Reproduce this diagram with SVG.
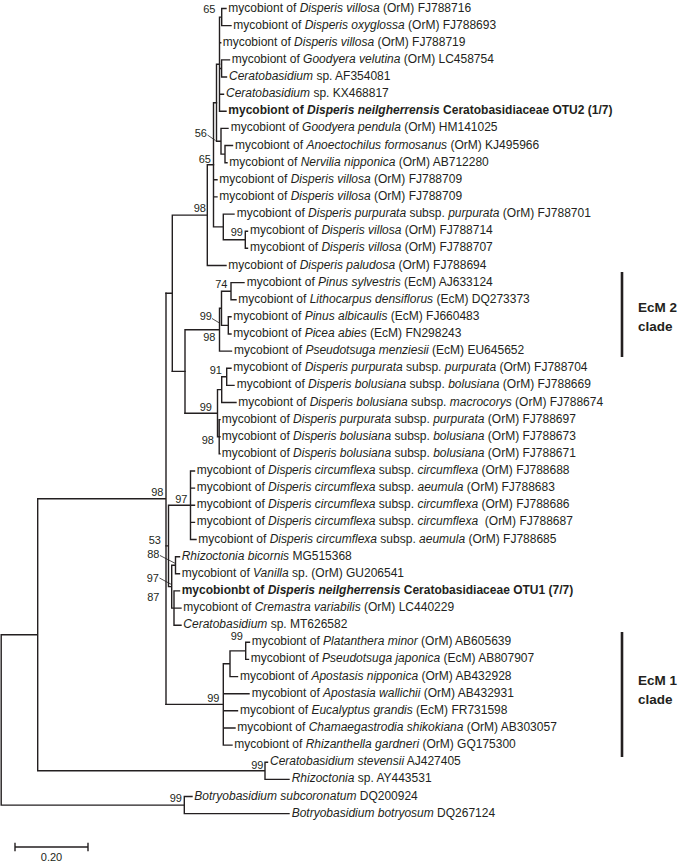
<svg xmlns="http://www.w3.org/2000/svg" width="678" height="864" viewBox="0 0 678 864">
<style>
.br{fill:none;stroke:#231f20;stroke-width:1.4;stroke-linecap:square}
.bar{fill:none;stroke:#231f20;stroke-width:2.6}
text{font-family:"Liberation Sans",Arial,sans-serif;fill:#231f20}
.t{font-size:12px}
.b{font-weight:bold}
.i{font-style:italic}
.bs{font-size:11px;text-anchor:end}
.cl{font-size:13.5px;font-weight:bold}
.ld{fill:none;stroke:#231f20;stroke-width:0.8}
</style>
<rect width="678" height="864" fill="#fff"/>
<g id="branches" class="br">
<path d="M221.7 8.5V25.6M221.7 8.5H226M221.7 25.6H231M219.5 17.1V111.3M219.5 17.1H221.7M219.5 42.8H220.7M221.6 59.9V77M219.5 68.5H221.6M221.6 59.9H229.5M221.6 77H226.5M219.5 94.2H223.5M219.5 111.3H226"/>
<path d="M216.5 64.2V141.3M216.5 64.2H219.5M221 128.4V154.1M216.5 141.3H221M221 128.4H228M225 145.5V162.7M221 154.1H225M225 145.5H232.5M225 162.7H227"/>
<path d="M213.5 102.7V226.9M213.5 102.7H216.5M213.5 179.8H217M213.5 196.9H217M223.3 214.1V239.8M213.5 226.9H223.3M223.3 214.1H234M245.3 231.2V248.3M223.3 239.8H245.3M245.3 231.2H247.5M245.3 248.3H247.5"/>
<path d="M207.3 164.8V265.5M207.3 164.8H213.5M207.3 265.5H226M172.3 215.1V371.4M172.3 215.1H207.3"/>
<path d="M231 282.6V299.7M231 282.6H244M231 299.7H236M221.5 291.2V325.4M221.5 291.2H231M228.3 316.8V334M221.5 325.4H228.3M228.3 316.8H231M228.3 334H231M219.5 308.3V351.1M219.5 308.3H221.5M219.5 351.1H231.5M185 329.7V413.2M185 329.7H219.5"/>
<path d="M226.7 368.2V385.4M226.7 368.2H231M226.7 385.4H234M221.7 376.8V402.5M221.7 376.8H226.7M221.7 402.5H236M219.2 419.6V453.9M219.2 419.6H220M219.2 436.8H220M219.2 453.9H220M217.5 389.6V436.8M217.5 389.6H221.7M217.5 436.8H219.2M185 413.2H217.5M172.3 371.4H185M166 293.3H172.3"/>
<path d="M166 293.3V704.4M37.7 498.8H166"/>
<path d="M190.5 471V539.5M190.5 471H194.5M190.5 488.1H194.5M190.5 505.3H194.5M190.5 522.4H194.5M190.5 539.5H196M168.5 505.3V586.6M168.5 505.3H190.5M166 545.9H168.5M171.7 565.2V608.1M168.5 586.6H171.7M175.5 556.7V573.8M171.7 565.2H175.5M175.5 556.7H179.5M175.5 573.8H179.5M174 590.9V625.2M171.7 608.1H174M174 590.9H179.5M174 608.1H181M174 625.2H181"/>
<path d="M245.7 642.3V659.4M245.7 642.3H249.5M245.7 659.4H248.5M230 650.9V676.6M230 650.9H245.7M230 676.6H237.5M223.3 663.7V745.1M223.3 663.7H230M223.3 693.7H249M223.3 710.8H237.5M223.3 728H235M223.3 745.1H232M166 704.4H223.3"/>
<path d="M265 762.2V779.4M265 762.2H267.5M265 779.4H289M37.7 498.8V770.8M37.7 770.8H265M1.2 634.8V805.1M1.2 634.8H37.7M184.3 796.5V813.6M1.2 805.1H184.3M184.3 796.5H192M184.3 813.6H289"/>
</g>
<g id="leader-lines" class="ld">
<path d="M207.5 135L215.5 140.5M212 318.5L219.5 323M160 555.5L175.5 563.5M159.5 578L171.5 584.5"/>
</g>
<g id="support-values">
<text class="bs" x="215.5" y="13">65</text>
<text class="bs" x="207" y="137">56</text>
<text class="bs" x="211" y="163">65</text>
<text class="bs" x="206" y="212">98</text>
<text class="bs" x="243" y="236">99</text>
<text class="bs" x="227.5" y="288">74</text>
<text class="bs" x="212" y="320">99</text>
<text class="bs" x="215.5" y="341">98</text>
<text class="bs" x="222" y="373.5">91</text>
<text class="bs" x="212" y="410.5">99</text>
<text class="bs" x="214" y="444">98</text>
<text class="bs" x="163.5" y="495.5">98</text>
<text class="bs" x="187.5" y="503">97</text>
<text class="bs" x="161" y="544">53</text>
<text class="bs" x="159.5" y="557.5">88</text>
<text class="bs" x="159" y="581.5">97</text>
<text class="bs" x="159.5" y="601">87</text>
<text class="bs" x="243" y="639.5">99</text>
<text class="bs" x="219.5" y="702">99</text>
<text class="bs" x="263.5" y="769">99</text>
<text class="bs" x="182" y="802">99</text>
</g>
<g id="leaf-01"><text class="t" x="228.3" y="11.5">mycobiont of <tspan class="i">Disperis villosa</tspan> (OrM) FJ788716</text></g>
<g id="leaf-02"><text class="t" x="233.3" y="28.6">mycobiont of <tspan class="i">Disperis oxyglossa</tspan> (OrM) FJ788693</text></g>
<g id="leaf-03"><text class="t" x="222.7" y="45.8">mycobiont of <tspan class="i">Disperis villosa</tspan> (OrM) FJ788719</text></g>
<g id="leaf-04"><text class="t" x="231.7" y="62.9">mycobiont of <tspan class="i">Goodyera velutina</tspan> (OrM) LC458754</text></g>
<g id="leaf-05"><text class="t" x="229" y="80"><tspan class="i">Ceratobasidium</tspan> sp. AF354081</text></g>
<g id="leaf-06"><text class="t" x="226" y="97.2"><tspan class="i">Ceratobasidium</tspan> sp. KX468817</text></g>
<g id="leaf-07"><text class="t b" x="228.3" y="114.3">mycobiont of <tspan class="i">Disperis neilgherrensis</tspan> Ceratobasidiaceae OTU2 (1/7)</text></g>
<g id="leaf-08"><text class="t" x="230.7" y="131.4">mycobiont of <tspan class="i">Goodyera pendula</tspan> (OrM) HM141025</text></g>
<g id="leaf-09"><text class="t" x="235" y="148.5">mycobiont of <tspan class="i">Anoectochilus formosanus</tspan> (OrM) KJ495966</text></g>
<g id="leaf-10"><text class="t" x="229.3" y="165.7">mycobiont of <tspan class="i">Nervilia nipponica</tspan> (OrM) AB712280</text></g>
<g id="leaf-11"><text class="t" x="219.3" y="182.8">mycobiont of <tspan class="i">Disperis villosa</tspan> (OrM) FJ788709</text></g>
<g id="leaf-12"><text class="t" x="219.3" y="199.9">mycobiont of <tspan class="i">Disperis villosa</tspan> (OrM) FJ788709</text></g>
<g id="leaf-13"><text class="t" x="236.7" y="217.1">mycobiont of <tspan class="i">Disperis purpurata</tspan> subsp. <tspan class="i">purpurata</tspan> (OrM) FJ788701</text></g>
<g id="leaf-14"><text class="t" x="250" y="234.2">mycobiont of <tspan class="i">Disperis villosa</tspan> (OrM) FJ788714</text></g>
<g id="leaf-15"><text class="t" x="250" y="251.3">mycobiont of <tspan class="i">Disperis villosa</tspan> (OrM) FJ788707</text></g>
<g id="leaf-16"><text class="t" x="228.3" y="268.5">mycobiont of <tspan class="i">Disperis paludosa</tspan> (OrM) FJ788694</text></g>
<g id="leaf-17"><text class="t" x="246.7" y="285.6">mycobiont of <tspan class="i">Pinus sylvestris</tspan> (EcM) AJ633124</text></g>
<g id="leaf-18"><text class="t" x="238.3" y="302.7">mycobiont of <tspan class="i">Lithocarpus densiflorus</tspan> (EcM) DQ273373</text></g>
<g id="leaf-19"><text class="t" x="233.3" y="319.8">mycobiont of <tspan class="i">Pinus albicaulis</tspan> (EcM) FJ660483</text></g>
<g id="leaf-20"><text class="t" x="233.3" y="337">mycobiont of <tspan class="i">Picea abies</tspan> (EcM) FN298243</text></g>
<g id="leaf-21"><text class="t" x="234" y="354.1">mycobiont of <tspan class="i">Pseudotsuga menziesii</tspan> (EcM) EU645652</text></g>
<g id="leaf-22"><text class="t" x="233.3" y="371.2">mycobiont of <tspan class="i">Disperis purpurata</tspan> subsp. <tspan class="i">purpurata</tspan> (OrM) FJ788704</text></g>
<g id="leaf-23"><text class="t" x="236.7" y="388.4">mycobiont of <tspan class="i">Disperis bolusiana</tspan> subsp. <tspan class="i">bolusiana</tspan> (OrM) FJ788669</text></g>
<g id="leaf-24"><text class="t" x="238.3" y="405.5">mycobiont of <tspan class="i">Disperis bolusiana</tspan> subsp. <tspan class="i">macrocorys</tspan> (OrM) FJ788674</text></g>
<g id="leaf-25"><text class="t" x="221.7" y="422.6">mycobiont of <tspan class="i">Disperis purpurata</tspan> subsp. <tspan class="i">purpurata</tspan> (OrM) FJ788697</text></g>
<g id="leaf-26"><text class="t" x="221.7" y="439.8">mycobiont of <tspan class="i">Disperis bolusiana</tspan> subsp. <tspan class="i">bolusiana</tspan> (OrM) FJ788673</text></g>
<g id="leaf-27"><text class="t" x="221.7" y="456.9">mycobiont of <tspan class="i">Disperis bolusiana</tspan> subsp. <tspan class="i">bolusiana</tspan> (OrM) FJ788671</text></g>
<g id="leaf-28"><text class="t" x="196.7" y="474">mycobiont of <tspan class="i">Disperis circumflexa</tspan> subsp. <tspan class="i">circumflexa</tspan> (OrM) FJ788688</text></g>
<g id="leaf-29"><text class="t" x="196.7" y="491.1">mycobiont of <tspan class="i">Disperis circumflexa</tspan> subsp. <tspan class="i">aeumula</tspan> (OrM) FJ788683</text></g>
<g id="leaf-30"><text class="t" x="196.7" y="508.3">mycobiont of <tspan class="i">Disperis circumflexa</tspan> subsp. <tspan class="i">circumflexa</tspan> (OrM) FJ788686</text></g>
<g id="leaf-31"><text class="t" x="196.7" y="525.4">mycobiont of <tspan class="i">Disperis circumflexa</tspan> subsp. <tspan class="i">circumflexa</tspan> <tspan dx="3.3">(OrM) FJ788687</tspan></text></g>
<g id="leaf-32"><text class="t" x="198.3" y="542.5">mycobiont of <tspan class="i">Disperis circumflexa</tspan> subsp. <tspan class="i">aeumula</tspan> (OrM) FJ788685</text></g>
<g id="leaf-33"><text class="t" x="181.7" y="559.7"><tspan class="i">Rhizoctonia bicornis</tspan> MG515368</text></g>
<g id="leaf-34"><text class="t" x="181.7" y="576.8">mycobiont of <tspan class="i">Vanilla</tspan> sp. (OrM) GU206541</text></g>
<g id="leaf-35"><text class="t b" x="181.7" y="593.9">mycobionbt of <tspan class="i">Disperis neilgherrensis</tspan> Ceratobasidiaceae OTU1 (7/7)</text></g>
<g id="leaf-36"><text class="t" x="183.3" y="611.1">mycobiont of <tspan class="i">Cremastra variabilis</tspan> (OrM) LC440229</text></g>
<g id="leaf-37"><text class="t" x="183.3" y="628.2"><tspan class="i">Ceratobasidium</tspan> sp. MT626582</text></g>
<g id="leaf-38"><text class="t" x="251.7" y="645.3">mycobiont of <tspan class="i">Platanthera minor</tspan> (OrM) AB605639</text></g>
<g id="leaf-39"><text class="t" x="250.7" y="662.4">mycobiont of <tspan class="i">Pseudotsuga japonica</tspan> (EcM) AB807907</text></g>
<g id="leaf-40"><text class="t" x="240" y="679.6">mycobiont of <tspan class="i">Apostasis nipponica</tspan> (OrM) AB432928</text></g>
<g id="leaf-41"><text class="t" x="251.7" y="696.7">mycobiont of <tspan class="i">Apostasia wallichii</tspan> (OrM) AB432931</text></g>
<g id="leaf-42"><text class="t" x="240" y="713.8">mycobiont of <tspan class="i">Eucalyptus grandis</tspan> (EcM) FR731598</text></g>
<g id="leaf-43"><text class="t" x="237.3" y="731">mycobiont of <tspan class="i">Chamaegastrodia shikokiana</tspan> (OrM) AB303057</text></g>
<g id="leaf-44"><text class="t" x="234.3" y="748.1">mycobiont of <tspan class="i">Rhizanthella gardneri</tspan> (OrM) GQ175300</text></g>
<g id="leaf-45"><text class="t" x="270" y="765.2"><tspan class="i">Ceratobasidium stevensii</tspan> AJ427405</text></g>
<g id="leaf-46"><text class="t" x="291.7" y="782.4"><tspan class="i">Rhizoctonia</tspan> sp. AY443531</text></g>
<g id="leaf-47"><text class="t" x="194.3" y="799.5"><tspan class="i">Botryobasidium subcoronatum</tspan> DQ200924</text></g>
<g id="leaf-48"><text class="t" x="291.7" y="816.6"><tspan class="i">Botryobasidium botryosum</tspan> DQ267124</text></g>
<g id="clade-ecm2">
<line class="bar" x1="622" y1="272" x2="622" y2="357"/>
<text class="cl" x="638" y="312">EcM 2</text>
<text class="cl" x="638" y="331">clade</text>
</g>
<g id="clade-ecm1">
<line class="bar" x1="622" y1="632" x2="622" y2="757"/>
<text class="cl" x="638" y="685">EcM 1</text>
<text class="cl" x="638" y="704">clade</text>
</g>
<g id="scale-bar">
<path class="br" d="M15 847H88M15 843.5V850.5M88 843.5V850.5"/>
<text x="51.5" y="861" font-size="11" text-anchor="middle">0.20</text>
</g>
</svg>
